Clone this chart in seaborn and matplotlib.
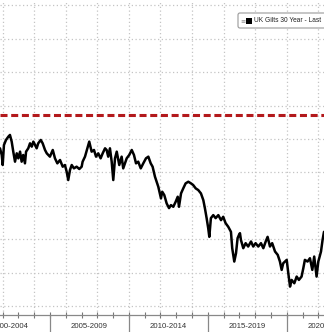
import matplotlib
matplotlib.use("Agg")
import matplotlib.pyplot as plt
import matplotlib.transforms as mtransforms
from matplotlib.patches import FancyBboxPatch, Rectangle
import seaborn as sns
import pandas as pd

# ---- data ----
years = [
    2001.84, 2001.95, 2002.01, 2002.09, 2002.22, 2002.37, 2002.47, 2002.58, 2002.68, 2002.79,
    2002.90, 2003.00, 2003.11, 2003.21, 2003.31, 2003.42, 2003.49, 2003.63, 2003.74, 2003.85,
    2003.95, 2004.06, 2004.16, 2004.26, 2004.42, 2004.54, 2004.69, 2004.80, 2005.00, 2005.18,
    2005.32, 2005.47, 2005.64, 2005.81, 2005.95, 2006.06, 2006.16, 2006.27, 2006.38, 2006.52,
    2006.69, 2006.86, 2007.01, 2007.07, 2007.22, 2007.37, 2007.49, 2007.64, 2007.79, 2007.92,
    2008.06, 2008.21, 2008.34, 2008.49, 2008.59, 2008.69, 2008.80, 2008.91, 2009.01, 2009.12,
    2009.23, 2009.39, 2009.54, 2009.64, 2009.86, 2010.02, 2010.18, 2010.32, 2010.45, 2010.59,
    2010.75, 2010.91, 2011.08, 2011.23, 2011.38, 2011.50, 2011.65, 2011.86, 2012.03, 2012.11,
    2012.24, 2012.39, 2012.54, 2012.66, 2012.81, 2012.96, 2013.09, 2013.17, 2013.30, 2013.44,
    2013.59, 2013.76, 2013.93, 2014.07, 2014.23, 2014.39, 2014.56, 2014.71, 2014.81, 2014.92,
    2015.02, 2015.09, 2015.19, 2015.34, 2015.49, 2015.66, 2015.83, 2015.97, 2016.12, 2016.29,
    2016.46, 2016.54, 2016.67, 2016.78, 2016.88, 2016.97, 2017.03, 2017.09, 2017.24, 2017.39,
    2017.55, 2017.73, 2017.87, 2018.02, 2018.19, 2018.36, 2018.51, 2018.66, 2018.78, 2018.93,
    2019.07, 2019.25, 2019.42, 2019.56, 2019.67, 2019.77, 2019.88, 2019.99, 2020.09, 2020.20,
    2020.30, 2020.47, 2020.62, 2020.76, 2020.93, 2021.04, 2021.14, 2021.31, 2021.46, 2021.61,
    2021.73, 2021.88, 2021.99, 2022.16, 2022.26, 2022.35,
]
yields = [
    4.72, 4.52, 4.22, 4.82, 4.97, 5.07, 5.12, 4.92, 4.62, 4.32,
    4.57, 4.42, 4.62, 4.32, 4.52, 4.27, 4.62, 4.72, 4.87, 4.77,
    4.92, 4.82, 4.72, 4.87, 4.97, 4.87, 4.67, 4.57, 4.47, 4.67,
    4.42, 4.27, 4.37, 4.17, 4.22, 4.02, 3.77, 4.07, 4.22, 4.12,
    4.17, 4.10, 4.17, 4.32, 4.47, 4.72, 4.92, 4.62, 4.67, 4.47,
    4.57, 4.42, 4.57, 4.72, 4.67, 4.47, 4.72, 4.32, 3.77, 4.42,
    4.62, 4.22, 4.47, 4.12, 4.42, 4.52, 4.67, 4.52, 4.27, 4.32,
    4.12, 4.27, 4.42, 4.47, 4.27, 4.17, 3.87, 3.57, 3.22, 3.42,
    3.32, 3.07, 2.93, 3.02, 2.97, 3.12, 3.27, 2.97, 3.37, 3.52,
    3.67, 3.72, 3.67, 3.62, 3.52, 3.47, 3.37, 3.17, 2.93, 2.63,
    2.33, 2.07, 2.63, 2.72, 2.63, 2.72, 2.57, 2.67, 2.48, 2.37,
    2.22, 1.73, 1.33, 1.58, 2.03, 2.13, 2.18, 1.98, 1.73, 1.88,
    1.78, 1.93, 1.78, 1.88, 1.78, 1.88, 1.73, 1.93, 2.07, 1.78,
    1.88, 1.63, 1.53, 1.33, 1.08, 1.28, 1.33, 1.38, 0.98, 0.58,
    0.78, 0.68, 0.88, 0.78, 0.88, 1.13, 1.38, 1.33, 1.43, 1.08,
    1.48, 0.88, 1.33, 1.63, 1.98, 2.22,
]
reference_level = 5.72
period_starts = [2000, 2005, 2010, 2015, 2020]
period_labels = ["2000-2004", "2005-2009", "2010-2014", "2015-2019", "2020-2024"]
legend_label = "UK Gilts 30 Year - Last"

df = pd.DataFrame({"year": years, "yield": yields})

sns.set_theme(style="white")
plt.rcParams["font.family"] = ["Liberation Sans", "DejaVu Sans"]

W, H = 324, 332
fig = plt.figure(figsize=(W / 100, H / 100), dpi=100)
ax = fig.add_axes([0, 17 / H, 1, 315 / H])

# grid
grid_kw = dict(color="#c4c4c4", lw=0.9, ls=(0, (1, 2)), zorder=0)
for v in range(0, 10):
    ax.axhline(v, **grid_kw)
for yr in range(2002, 2024, 2):
    ax.axvline(yr, **grid_kw)

# reference level
ax.axhline(reference_level, color="#b3191c", lw=2.2, ls=(0, (2.3, 1.2)),
           dash_capstyle="butt", zorder=2)

sns.lineplot(data=df, x="year", y="yield", color="black", lw=1.8, sort=False,
             estimator=None, ax=ax, zorder=3)

ax.set_xlim(2001.84, 2022.35)
ax.set_ylim(-0.27, 9.16)
ax.set_xlabel("")
ax.set_ylabel("")
ax.set_yticks([])
ax.set_xticks(range(2002, 2023))
ax.set_xticklabels([])
ax.tick_params(axis="x", which="major", direction="inout", length=4, width=0.8,
               color="#777777", bottom=True)
for side in ["top", "right", "left"]:
    ax.spines[side].set_visible(False)
ax.spines["bottom"].set_color("#888888")
ax.spines["bottom"].set_linewidth(0.9)

trans = mtransforms.blended_transform_factory(ax.transData, ax.transAxes)
for start, lab in zip(period_starts, period_labels):
    if start > 2002:
        ax.plot([start, start], [0, -0.06], transform=trans, color="#888888",
                lw=0.9, clip_on=False)
    ax.text(start + 2.5, -0.037, lab, transform=trans, ha="center", va="center",
            fontsize=5.6, color="#333333", clip_on=False)

# legend box
box = FancyBboxPatch((238 / W, (H - 28) / H), 110 / W, 15 / H,
                     boxstyle="round,pad=0,rounding_size=0.006",
                     transform=fig.transFigure, facecolor="white",
                     edgecolor="#999999", lw=0.8, zorder=10)
fig.patches.append(box)
fig.text(240.5 / W, (H - 20.5) / H, "≡", fontsize=4.5, color="#888888",
         ha="left", va="center", family="DejaVu Sans", zorder=11)
sq = Rectangle((246 / W, (H - 24) / H), 6 / W, 6 / H, transform=fig.transFigure,
               facecolor="black", edgecolor="none", zorder=11)
fig.patches.append(sq)
fig.text(254 / W, (H - 20.5) / H, legend_label, fontsize=4.8, color="#222222",
         ha="left", va="center", zorder=11)

fig.savefig("out.png", dpi=100)
